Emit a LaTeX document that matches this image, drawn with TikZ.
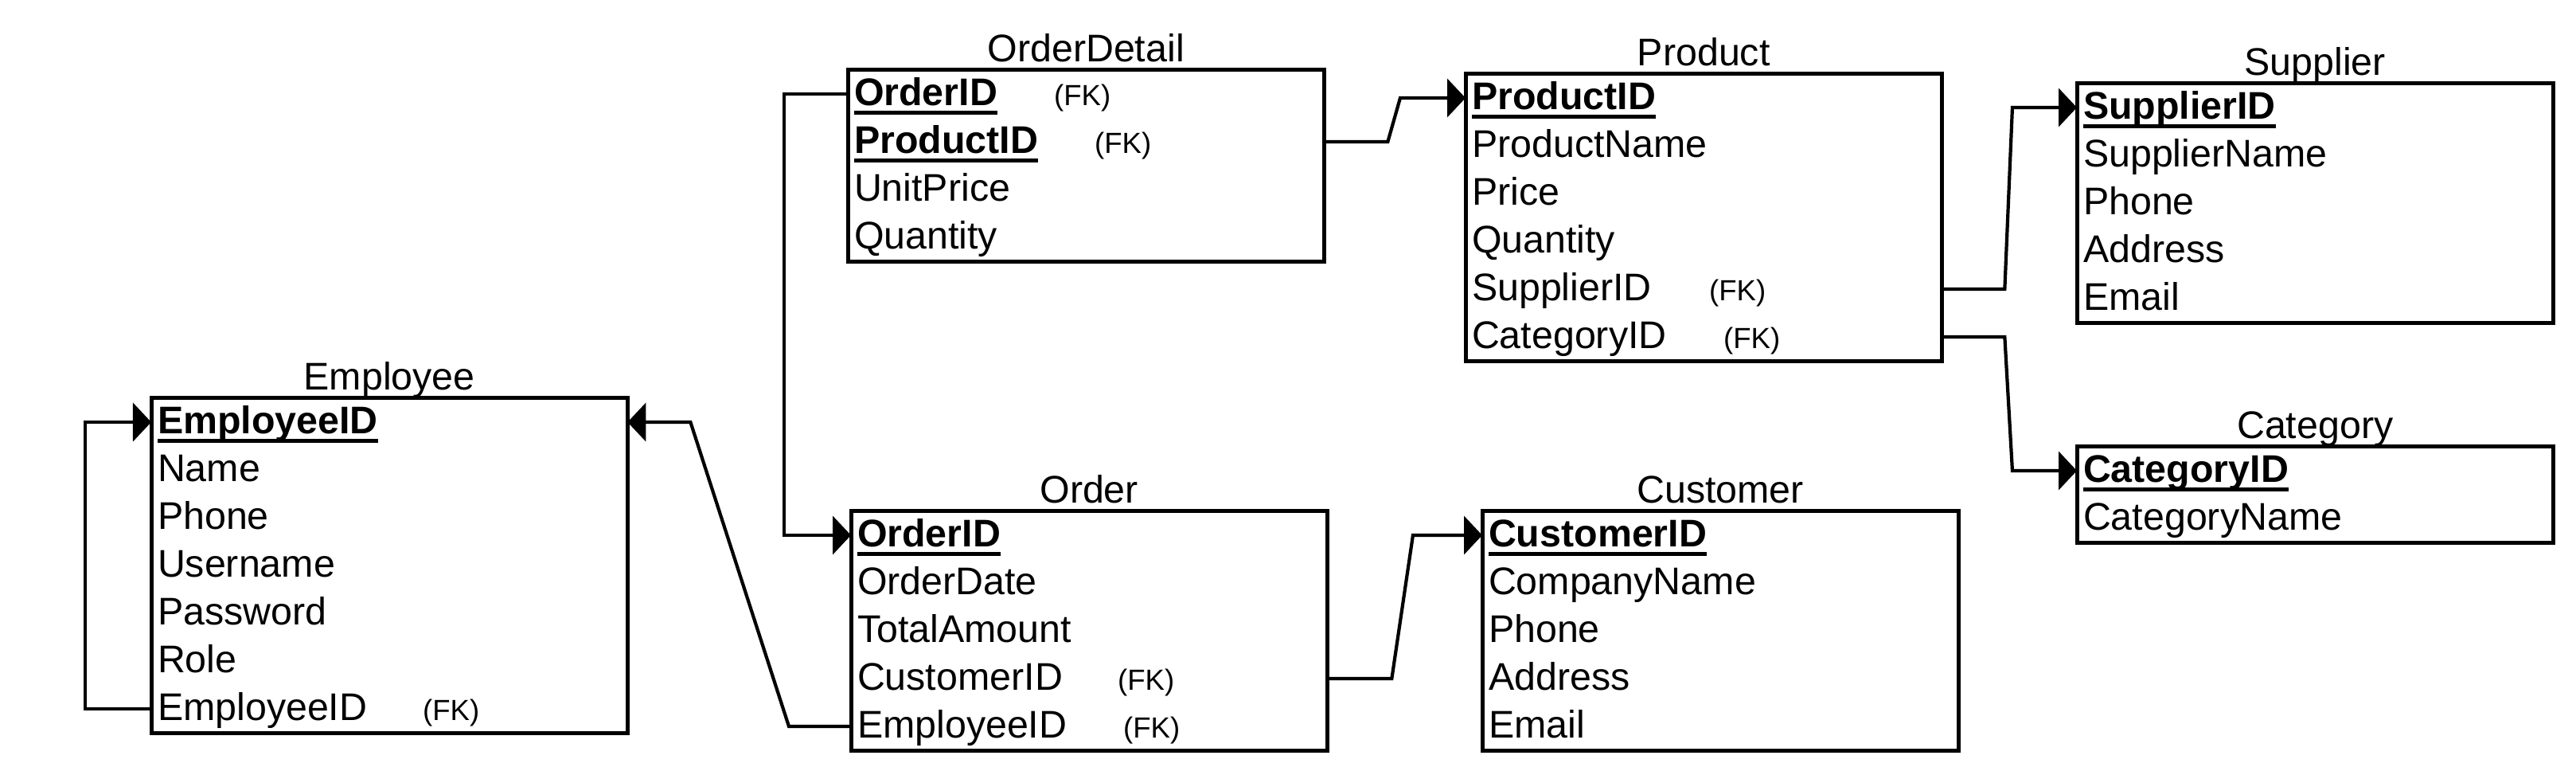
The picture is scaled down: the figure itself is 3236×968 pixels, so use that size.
\documentclass[tikz,border=0pt]{standalone}
\usepackage{fontspec}
\setmainfont{Liberation Sans}
\usetikzlibrary{arrows.meta}
\newcommand\mainf{\fontsize{13.75pt}{16pt}\selectfont}
\newcommand\fkf{\fontsize{10.4pt}{12pt}\selectfont}
\newcommand\pk[1]{\leavevmode\setbox0\hbox{\bfseries #1}\rlap{\vrule width \wd0 height -0.7mm depth 1.15mm}\box0}
\newcommand\fkat[2]{\leavevmode\makebox[#1][l]{#2}{\fkf(FK)}}
\tikzset{
  ent/.style={draw, line width=0.5mm, minimum width=59.8mm, inner sep=0pt, outer sep=0pt, anchor=north west},
  row/.style={anchor=north west, inner xsep=0.8mm, inner ysep=0pt, outer sep=0pt, text width=58.2mm,
    minimum height=6mm, align=left, text height=3.1mm, text depth=0.3mm, font=\mainf},
  ttl/.style={anchor=base, inner sep=0pt, font=\mainf},
  conn/.style={line width=0.42mm, -{Triangle[length=2.3mm,width=4.8mm]}},
}
\begin{document}
\begin{tikzpicture}[x=0.01cm,y=-0.01cm]
\useasboundingbox (0,0) rectangle (3236,968);
% Employee
\node[ent, minimum height=42mm] (employee) at (190,500) {};
\node[ttl] (employeeT) at ([yshift=1mm]employee.north) {Employee};
\node[row] (emp1) at (190,500) {\pk{EmployeeID}};
\node[row] (emp2) at (190,560) {Name};
\node[row] (emp3) at (190,620) {Phone};
\node[row] (emp4) at (190,680) {Username};
\node[row] (emp5) at (190,740) {Password};
\node[row] (emp6) at (190,800) {Role};
\node[row] (emp7) at (190,860) {\fkat{33.3mm}{EmployeeID}};
% OrderDetail
\node[ent, minimum height=24mm] (orderdetail) at (1065,88) {};
\node[ttl] (orderdetailT) at ([yshift=1mm]orderdetail.north) {OrderDetail};
\node[row] (od1) at (1065,88) {\fkat{25.1mm}{\pk{OrderID}}};
\node[row] (od2) at (1065,148) {\fkat{30.2mm}{\pk{ProductID}}};
\node[row] (od3) at (1065,208) {UnitPrice};
\node[row] (od4) at (1065,268) {Quantity};
% Product
\node[ent, minimum height=36mm] (product) at (1841,93) {};
\node[ttl] (productT) at ([yshift=1mm]product.north) {Product};
\node[row] (pr1) at (1841,93) {\pk{ProductID}};
\node[row] (pr2) at (1841,153) {ProductName};
\node[row] (pr3) at (1841,213) {Price};
\node[row] (pr4) at (1841,273) {Quantity};
\node[row] (pr5) at (1841,333) {\fkat{29.8mm}{SupplierID}};
\node[row] (pr6) at (1841,393) {\fkat{31.6mm}{CategoryID}};
% Supplier
\node[ent, minimum height=30mm] (supplier) at (2609,105) {};
\node[ttl] (supplierT) at ([yshift=1mm]supplier.north) {Supplier};
\node[row] (su1) at (2609,105) {\pk{SupplierID}};
\node[row] (su2) at (2609,165) {SupplierName};
\node[row] (su3) at (2609,225) {Phone};
\node[row] (su4) at (2609,285) {Address};
\node[row] (su5) at (2609,345) {Email};
% Category
\node[ent, minimum height=12mm] (category) at (2609,561) {};
\node[ttl] (categoryT) at ([yshift=1mm]category.north) {Category};
\node[row] (ca1) at (2609,561) {\pk{CategoryID}};
\node[row] (ca2) at (2609,621) {CategoryName};
% Order
\node[ent, minimum height=30mm] (order) at (1069,642) {};
\node[ttl] (orderT) at ([yshift=1mm]order.north) {Order};
\node[row] (or1) at (1069,642) {\pk{OrderID}};
\node[row] (or2) at (1069,702) {OrderDate};
\node[row] (or3) at (1069,762) {TotalAmount};
\node[row] (or4) at (1069,822) {\fkat{32.7mm}{CustomerID}};
\node[row] (or5) at (1069,882) {\fkat{33.4mm}{EmployeeID}};
% Customer
\node[ent, minimum height=30mm] (customer) at (1862,642) {};
\node[ttl] (customerT) at ([yshift=1mm]customer.north) {Customer};
\node[row] (cu1) at (1862,642) {\pk{CustomerID}};
\node[row] (cu2) at (1862,702) {CompanyName};
\node[row] (cu3) at (1862,762) {Phone};
\node[row] (cu4) at (1862,822) {Address};
\node[row] (cu5) at (1862,882) {Email};
% Connectors
\draw[conn] (od1.west) -- ++(-80,0) |- (or1.west);
\draw[conn] (od2.east) -- ++(80,0) -- ([xshift=-8.2mm]pr1.west) -- (pr1.west);
\draw[conn] (pr5.east) -- ++(79,0) -- ([xshift=-8.1mm]su1.west) -- (su1.west);
\draw[conn] (pr6.east) -- ++(79,0) -- ([xshift=-8.1mm]ca1.west) -- (ca1.west);
\draw[conn] (or4.east) -- ++(81,0) -- ([xshift=-8.7mm]cu1.west) -- (cu1.west);
\draw[conn] (or5.west) -- ++(-78,0) -- ([xshift=7.9mm]emp1.east) -- (emp1.east);
\draw[conn] (emp7.west) -- ++(-83,0) |- (emp1.west);
\end{tikzpicture}
\end{document}
